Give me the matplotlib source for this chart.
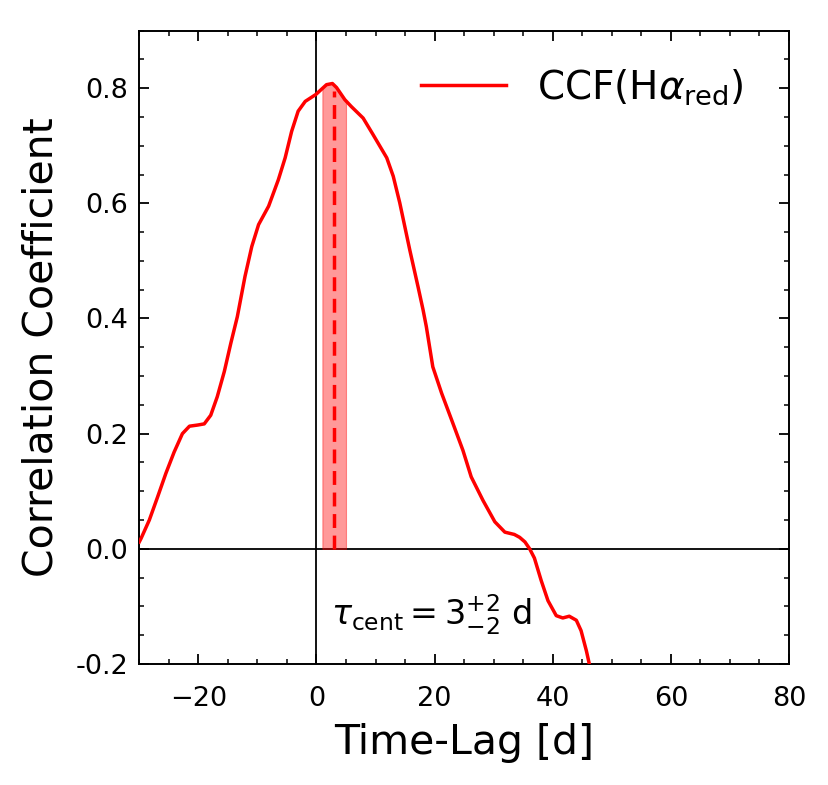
import numpy as np
import matplotlib
matplotlib.use("Agg")
import matplotlib.pyplot as plt
from matplotlib.ticker import MultipleLocator, FormatStrFormatter

# ==============================
# DATA
# ==============================

lag = [-30.0, -29.7, -28.3, -26.9, -25.5, -24.1, -22.7, -21.5, -20.1, -19.0,
       -17.9, -16.8, -15.6, -14.5, -13.4, -12.1, -10.95, -9.8, -8.1, -6.45,
       -5.3, -4.2, -3.1, -1.9, -0.1, 1.7, 2.7, 3.4, 4.8, 5.9,
       7.9, 9.6, 11.9, 13.0, 14.1, 15.8, 17.2, 18.05, 18.6, 19.7,
       21.2, 23.1, 24.8, 26.2, 28.2, 30.2, 31.9, 33.5, 34.4, 35.3,
       36.1, 36.9, 38.05, 39.2, 40.6, 41.7, 42.8, 44.0, 44.8, 45.7, 46.2]
ccf = [0.012, 0.018, 0.050, 0.090, 0.131, 0.168, 0.200, 0.213, 0.215, 0.217,
       0.232, 0.264, 0.308, 0.357, 0.403, 0.473, 0.525, 0.563, 0.595, 0.641,
       0.679, 0.725, 0.760, 0.777, 0.789, 0.806, 0.808, 0.801, 0.780, 0.768,
       0.748, 0.719, 0.679, 0.647, 0.601, 0.519, 0.455, 0.415, 0.386, 0.316,
       0.270, 0.218, 0.171, 0.125, 0.084, 0.047, 0.029, 0.025, 0.020, 0.012,
       0.000, -0.016, -0.055, -0.090, -0.116, -0.120, -0.117, -0.124, -0.142, -0.177, -0.200]

tau_cent = 3
tau_lo = 2
tau_hi = 2

lag = np.array(lag)
ccf = np.array(ccf)

# ==============================
# PLOT
# ==============================

fig = plt.figure(figsize=(8.29, 7.85), dpi=100)
ax = fig.add_axes([0.168, 0.1541, 0.9517 - 0.168, 0.9611 - 0.1541])

ax.axhline(0, color="black", lw=1.3, zorder=1)
ax.axvline(0, color="black", lw=1.3, zorder=1)

ax.plot(lag, ccf, color="red", lw=2.5, label=r"CCF(H$\alpha_{\rm red}$)", zorder=3)

# centroid band, filled up to the curve
band_x = np.linspace(tau_cent - tau_lo, tau_cent + tau_hi, 50)
band_y = np.interp(band_x, lag, ccf)
ax.fill_between(band_x, 0, band_y, color="red", alpha=0.4, lw=0.8, zorder=2)
ax.plot([tau_cent, tau_cent], [0, np.interp(tau_cent, lag, ccf) - 0.01],
        color="red", ls="--", lw=2.5, dashes=(4, 2.2), zorder=3)

ax.text(2.4, -0.114, r"$\tau_{\rm cent} = %d^{+%d}_{-%d}$ d" % (tau_cent, tau_hi, tau_lo),
        fontsize=24, va="center", ha="left")

ax.set_xlim(-30, 80)
ax.set_ylim(-0.2, 0.9)
ax.set_xlabel("Time-Lag [d]", fontsize=29.5, va="top")
ax.set_ylabel("Correlation Coefficient", fontsize=29.5)
ax.xaxis.set_label_coords(0.5, -0.093)
ax.yaxis.set_label_coords(-0.120, 0.5)

ax.xaxis.set_major_locator(MultipleLocator(20))
ax.xaxis.set_minor_locator(MultipleLocator(5))
ax.yaxis.set_major_locator(MultipleLocator(0.2))
ax.yaxis.set_minor_locator(MultipleLocator(0.05))
ax.yaxis.set_major_formatter(FormatStrFormatter("%.1f"))
ax.tick_params(which="both", direction="in", top=True, right=True, labelsize=19.5)
ax.tick_params(which="major", length=7, width=1.3)
ax.tick_params(which="minor", length=3.8, width=1.1)
ax.tick_params(axis="x", which="major", pad=16)
ax.tick_params(axis="y", which="major", pad=8)
for s in ax.spines.values():
    s.set_linewidth(1.4)

ax.legend(loc="upper right", bbox_to_anchor=(0.955, 0.966), borderaxespad=0,
          frameon=False, fontsize=28, handlelength=2.2)

fig.savefig("out.png", dpi=100)
